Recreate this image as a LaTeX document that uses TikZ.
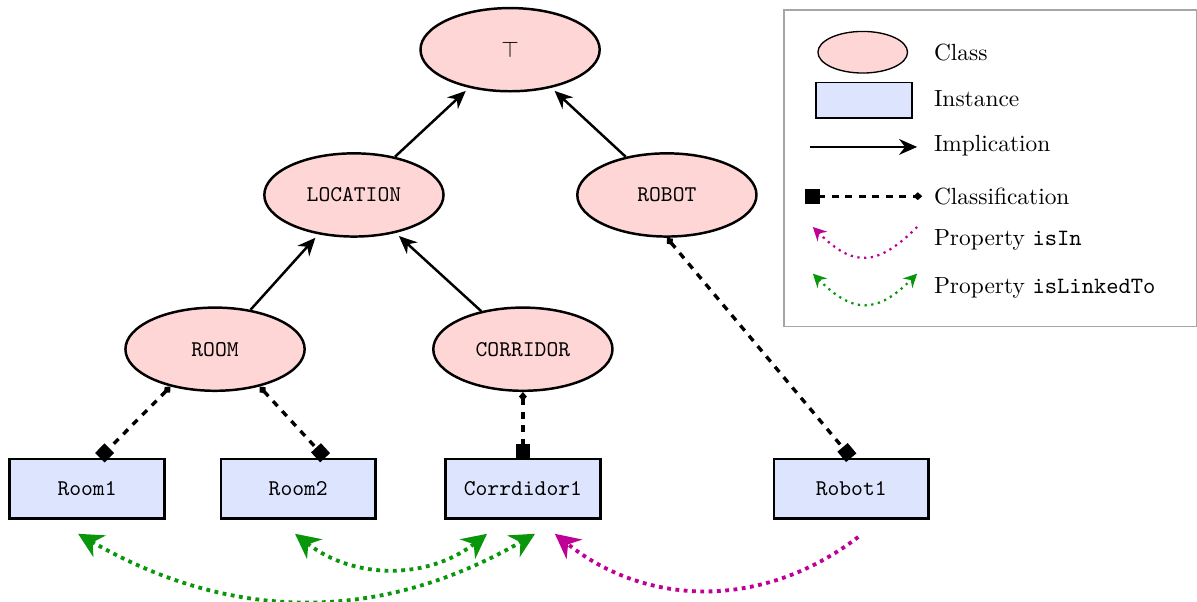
\documentclass[tikz,border=0pt]{standalone}
\usepackage{amsmath,amssymb}
\usepackage{xcolor}
\usepackage{tikz}
\usetikzlibrary{shapes,positioning,calc,arrows.meta}

\definecolor{classpink}{RGB}{255,214,214}
\definecolor{instblue}{RGB}{221,228,253}
\definecolor{linkgreen}{RGB}{10,150,10}
\definecolor{isinmag}{RGB}{190,0,150}

\tikzset{
    classnode/.style={ellipse, draw, line width=1.1pt, fill=classpink, minimum width=2.8cm, minimum height=1.3cm, font=\ttfamily},
    instnode/.style={rectangle, draw, line width=1.1pt, fill=instblue, minimum width=2.42cm, minimum height=0.93cm, font=\ttfamily},
    implies/.style={-{Stealth[length=8pt,width=7pt]}, line width=1.1pt, shorten >=2pt},
    classif/.style={dashed, line width=1.5pt, {Diamond[length=4pt,width=3.5pt]}-{Square[length=6pt,width=6pt]}},
    linkedto/.style={dotted, line width=1.7pt, draw=linkgreen, {Stealth[length=11pt,width=11pt,inset=3.5pt]}-{Stealth[length=11pt,width=11pt,inset=3.5pt]}},
    isin/.style={dotted, line width=1.7pt, draw=isinmag, -{Stealth[length=11pt,width=11pt,inset=3.5pt]}}
}

\begin{document}
\begin{tikzpicture}
    \useasboundingbox (0,0) rectangle (18.703,9.406);

    % Classes
    \node[classnode] (top) at (7.97,8.63) {$\top$};
    \node[classnode] (LOCATION) at (5.53,6.36) {LOCATION};
    \node[classnode] (ROBOT) at (10.42,6.36) {ROBOT};
    \node[classnode] (ROOM) at (3.36,3.95) {ROOM};
    \node[classnode] (CORRIDOR) at (8.17,3.95) {CORRIDOR};

    % Instances
    \node[instnode] (Room1) at (1.36,1.77) {Room1};
    \node[instnode] (Room2) at (4.66,1.77) {Room2};
    \node[instnode] (Corrdidor1) at (8.17,1.77) {Corrdidor1};
    \node[instnode] (Robot1) at (13.30,1.77) {Robot1};

    % Implication
    \draw[implies] (LOCATION) -- (top);
    \draw[implies] (ROBOT) -- (top);
    \draw[implies] (ROOM) -- (LOCATION);
    \draw[implies] (CORRIDOR) -- (LOCATION);

    % Classification
    \draw[classif] (ROOM.-140) -- ([xshift=0.2cm]Room1.north);
    \draw[classif] (ROOM.-40) -- ([xshift=0.42cm]Room2.north);
    \draw[classif] (CORRIDOR.south) -- (Corrdidor1.north);
    \draw[classif] (ROBOT.south) -- (Robot1.north);

    % Properties
    \draw[linkedto] ([xshift=-0.14cm,yshift=-0.22cm]Room1.south) to[bend right=30] ([xshift=0.19cm,yshift=-0.22cm]Corrdidor1.south);
    \draw[linkedto] ([xshift=-0.05cm,yshift=-0.22cm]Room2.south) to[bend right=38] ([xshift=-0.56cm,yshift=-0.22cm]Corrdidor1.south);
    \draw[isin] ([xshift=0.11cm,yshift=-0.27cm]Robot1.south) to[bend left=38] ([xshift=0.5cm,yshift=-0.22cm]Corrdidor1.south);

    % Legend
    \draw[gray!70, line width=0.6pt] (12.25,4.30) rectangle (18.69,9.25);
    \node[classnode, line width=0.6pt, minimum width=1.4cm, minimum height=0.65cm] (legClass) at (13.48,8.59) {};
    \node[instnode, line width=0.6pt, minimum width=1.5cm, minimum height=0.56cm] (legInst) at (13.5,7.84) {};
    \coordinate (impA) at (12.66,7.11);
    \coordinate (impB) at (14.33,7.11);
    \coordinate (clsA) at (12.58,6.34);
    \coordinate (clsB) at (14.41,6.34);
    \coordinate (inA) at (14.33,5.86);
    \coordinate (inB) at (12.70,5.86);
    \coordinate (lnA) at (12.70,5.13);
    \coordinate (lnB) at (14.33,5.13);
    \draw[implies, shorten >=0pt] (impA) -- (impB);
    \draw[classif, line width=1.2pt, {Square[length=6.5pt,width=6.5pt]}-{Diamond[length=4pt,width=3.5pt]}] (clsA) -- (clsB);
    \draw[isin, line width=1pt, -{Stealth[length=6pt,width=6pt,inset=2pt]}] (inA) to[out=-135, in=-45, looseness=1.4] (inB);
    \draw[linkedto, line width=1pt, {Stealth[length=6pt,width=6pt,inset=2pt]}-{Stealth[length=6pt,width=6pt,inset=2pt]}] (lnA) to[out=-45, in=-135, looseness=1.4] (lnB);

    \node[anchor=west, font=\fontsize{10.4}{12}\selectfont] (legClassTxt) at (14.47,8.59) {Class};
    \node[anchor=west, font=\fontsize{10.4}{12}\selectfont] (legInstTxt) at (14.47,7.86) {Instance};
    \node[anchor=west, font=\fontsize{10.4}{12}\selectfont] (legImpTxt) at (14.47,7.13) {Implication};
    \node[anchor=west, font=\fontsize{10.4}{12}\selectfont] (legClsTxt) at (14.47,6.34) {Classification};
    \node[anchor=west, font=\fontsize{10.4}{12}\selectfont] (legInTxt) at (14.47,5.66) {Property \texttt{isIn}};
    \node[anchor=west, font=\fontsize{10.4}{12}\selectfont] (legLnTxt) at (14.47,4.91) {Property \texttt{isLinkedTo}};
\end{tikzpicture}
\end{document}
